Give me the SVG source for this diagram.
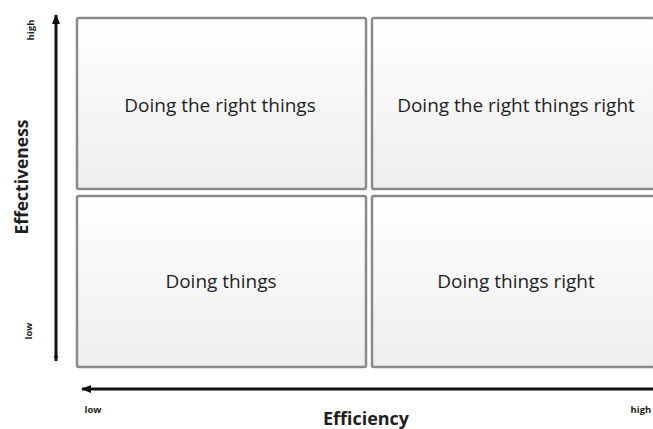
<svg xmlns="http://www.w3.org/2000/svg" width="653" height="429" viewBox="0 0 653 429">
<defs>
<linearGradient id="g" x1="0" y1="0" x2="0" y2="1">
<stop offset="0" stop-color="#ffffff"/>
<stop offset="1" stop-color="#eeeeee"/>
</linearGradient>
<marker id="ah" viewBox="0 0 10 10" refX="9" refY="5" markerWidth="3.4" markerHeight="3.4" orient="auto-start-reverse" markerUnits="strokeWidth">
<path d="M0,1 L10,5 L0,9 z" fill="#111"/>
</marker>
<marker id="ah2" viewBox="0 0 10 10" refX="9" refY="5" markerWidth="2" markerHeight="2" orient="auto-start-reverse" markerUnits="strokeWidth">
<path d="M0,1 L10,5 L0,9 z" fill="#111"/>
</marker>
</defs>
<style>
.box{fill:url(#g);stroke:#8a8a8a;stroke-width:2.5}
.lbl{font-family:"Open Sans","Liberation Sans",sans-serif;font-size:19px;fill:#1e1e1e;text-anchor:middle}
.ax{font-family:"Open Sans","Liberation Sans",sans-serif;font-weight:bold;fill:#1e1e1e;text-anchor:middle}
.sm{font-family:"Open Sans","Liberation Sans",sans-serif;font-weight:bold;font-size:9.5px;fill:#1e1e1e;text-anchor:middle}
.axis{stroke:#111;stroke-width:3;fill:none}
</style>
<rect width="653" height="429" fill="#fff"/>
<g id="connectors">
<line class="axis" x1="56" y1="361" x2="56" y2="15" marker-end="url(#ah)" marker-start="url(#ah2)"/>
<line class="axis" x1="660" y1="389" x2="82" y2="389" marker-end="url(#ah)"/>
</g>
<g id="q-tl">
<rect class="box" x="77" y="18" width="289" height="171" rx="2"/>
<text class="lbl" x="220" y="112">Doing the right things</text>
</g>
<g id="q-tr">
<rect class="box" x="372" y="18" width="295" height="171" rx="2"/>
<text class="lbl" x="516" y="112">Doing the right things right</text>
</g>
<g id="q-bl">
<rect class="box" x="77" y="196" width="289" height="171" rx="2"/>
<text class="lbl" x="221" y="288">Doing things</text>
</g>
<g id="q-br">
<rect class="box" x="372" y="196" width="295" height="171" rx="2"/>
<text class="lbl" x="516" y="288">Doing things right</text>
</g>
<g id="labels">
<text class="ax" font-size="17.5" transform="translate(28,177) rotate(-90)">Effectiveness</text>
<text class="sm" transform="translate(34,30) rotate(-90)">high</text>
<text class="sm" transform="translate(32,331) rotate(-90)">low</text>
<text class="ax" font-size="18" x="366" y="425">Efficiency</text>
<text class="sm" x="93" y="413">low</text>
<text class="sm" x="641" y="413">high</text>
</g>
</svg>
